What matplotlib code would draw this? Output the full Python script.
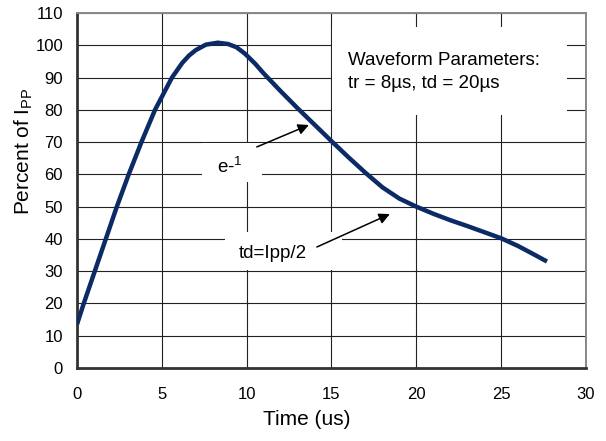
import matplotlib
matplotlib.use("Agg")
import matplotlib.pyplot as plt
from matplotlib.patches import Rectangle

plt.rcParams['font.family'] = ['Liberation Sans', 'DejaVu Sans']
plt.rcParams['mathtext.fontset'] = 'custom'
plt.rcParams['mathtext.rm'] = 'Liberation Sans'
plt.rcParams['mathtext.it'] = 'Liberation Sans'

# curva (tempo em us, % de Ipp)
tempo = [0, 0.4, 1.05, 1.7, 2.35, 3.05, 3.8, 4.6, 5.0, 5.6, 6.2, 6.6, 7.0, 7.6,
         8.3, 8.9, 9.4, 9.9, 10.5, 11.0, 12.0, 13.0, 14.0, 15.0, 16.0, 17.0, 18.0,
         19.0, 20.0, 21.0, 22.0, 23.0, 24.0, 25.0, 26.0, 27.0, 27.7]
percentual = [13.5, 20, 30, 40, 50, 60, 70, 80, 84, 90, 94.5, 96.8, 98.5, 100.2,
              100.8, 100.4, 99.4, 97.4, 94.3, 91.3, 85.8, 80.5, 75.4, 70.3, 65.3, 60.5, 56,
              52.5, 50, 47.8, 45.8, 44, 42.1, 40.2, 37.8, 35, 33]

x_ticks = [0, 5, 10, 15, 20, 25, 30]
y_ticks = [0, 10, 20, 30, 40, 50, 60, 70, 80, 90, 100, 110]

fig = plt.figure(figsize=(6.06, 4.41), dpi=100)
ax = fig.add_axes([0.127, 0.1655, 0.84, 0.805])

ax.plot(tempo, percentual, color='#0b2a66', lw=3.2, solid_joinstyle='round',
        solid_capstyle='butt', zorder=5)

ax.set_xlim(0, 30)
ax.set_ylim(0, 110)
ax.set_xticks(x_ticks)
ax.set_yticks(y_ticks)
ax.tick_params(length=0, labelsize=12)
ax.tick_params(axis='x', pad=14)
ax.tick_params(axis='y', pad=10)
ax.grid(True, color='#222222', lw=0.8, zorder=1)
ax.set_axisbelow(True)

for lado in ['top', 'right']:
    ax.spines[lado].set_color('#888888')
    ax.spines[lado].set_linewidth(1.4)
for lado in ['left', 'bottom']:
    ax.spines[lado].set_color('#333333')
    ax.spines[lado].set_linewidth(2)

ax.set_xlabel('Time (us)', fontsize=15)
ax.set_ylabel(r'Percent of I$_{\mathrm{PP}}$', fontsize=15)
ax.xaxis.set_label_coords(0.452, -0.118)
ax.yaxis.set_label_coords(-0.0825, 0.61)

# caixas brancas atras dos textos (cortam a grade)
for (x0, y0, x1, y1) in [(7.37, 57.6, 10.9, 69.7), (8.72, 30.4, 15.6, 42.1),
                         (15.03, 78.4, 28.87, 105.7)]:
    ax.add_patch(Rectangle((x0, y0), x1 - x0, y1 - y0, facecolor='white',
                           edgecolor='none', zorder=2))

ax.text(8.23, 60.4, r'e-$^{1}$', fontsize=13.5, ha='left', va='baseline', zorder=6)
ax.text(9.56, 34.1, 'td=Ipp/2', fontsize=13.5, ha='left', va='baseline', zorder=6)
ax.text(16.0, 93.9, 'Waveform Parameters:', fontsize=13.5, ha='left', va='baseline', zorder=6)
ax.text(16.0, 86.8, 'tr = 8µs, td = 20µs', fontsize=13.5, ha='left', va='baseline', zorder=6)

seta = dict(arrowstyle='-|>', color='black', lw=1.1, mutation_scale=16,
            shrinkA=0, shrinkB=0)
ax.annotate('', xy=(13.67, 75.3), xytext=(10.6, 68.5), arrowprops=seta, zorder=6)
ax.annotate('', xy=(18.44, 47.7), xytext=(14.14, 37.5), arrowprops=seta, zorder=6)

fig.savefig('out.png', dpi=100)
